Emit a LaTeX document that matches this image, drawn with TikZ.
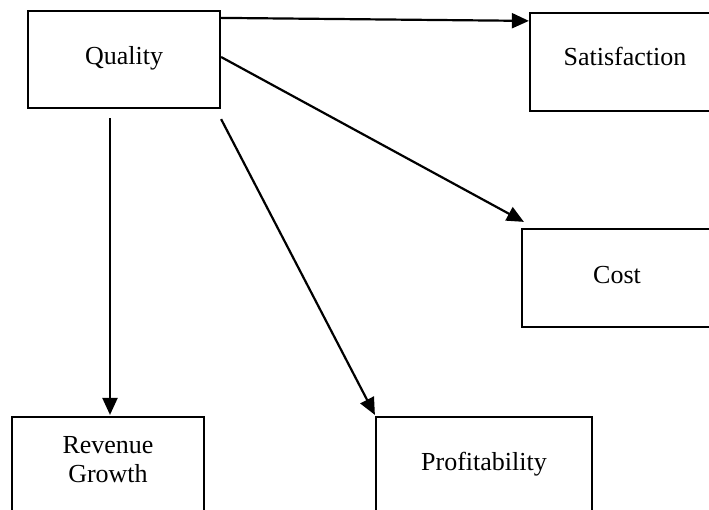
\documentclass[tikz,border=0pt]{standalone}
\usepackage{fontspec}
\setmainfont{Liberation Serif}
\usetikzlibrary{arrows.meta,calc}
\begin{document}
\begin{tikzpicture}[x=1pt,y=-1pt,
  box/.style={draw, line width=2.2pt, rectangle, inner sep=0pt, align=center,
    font=\fontsize{26}{29}\selectfont, text height=18pt},
  link/.style={line width=2.2pt, -{Triangle[length=17pt,width=15pt]}}]
\useasboundingbox (0,0) rectangle (709,510);
\clip (0,0) rectangle (709,510);
\node[box, minimum width=192pt, minimum height=97pt, text depth=8pt] (q) at (124,59.5) {Quality};
\node[box, minimum width=190pt, minimum height=98pt, text depth=10pt] (s) at (625,62) {Satisfaction};
\node[box, minimum width=190pt, minimum height=98pt, text depth=6pt] (c) at (617,278) {Cost};
\node[box, minimum width=192pt, minimum height=98pt, text height=47pt, text depth=15pt] (r) at (108,466) {Revenue\\Growth};
\node[box, minimum width=216pt, minimum height=98pt, text depth=10pt] (p) at (484,466) {Profitability};
\draw[link] ($(q.north east)+(0,8)$) -- ($(s.north west)+(0,9)$);
\draw[link] ($(q.east)+(0,-2.5)$) -- ($(c.north west)+(3,-6)$);
\draw[link] ($(q.south)+(-14,9)$) -- ($(r.north)+(2,-1)$);
\draw[link] ($(q.south east)+(0,10)$) -- ($(p.north west)+(0,-1)$);
\end{tikzpicture}
\end{document}
